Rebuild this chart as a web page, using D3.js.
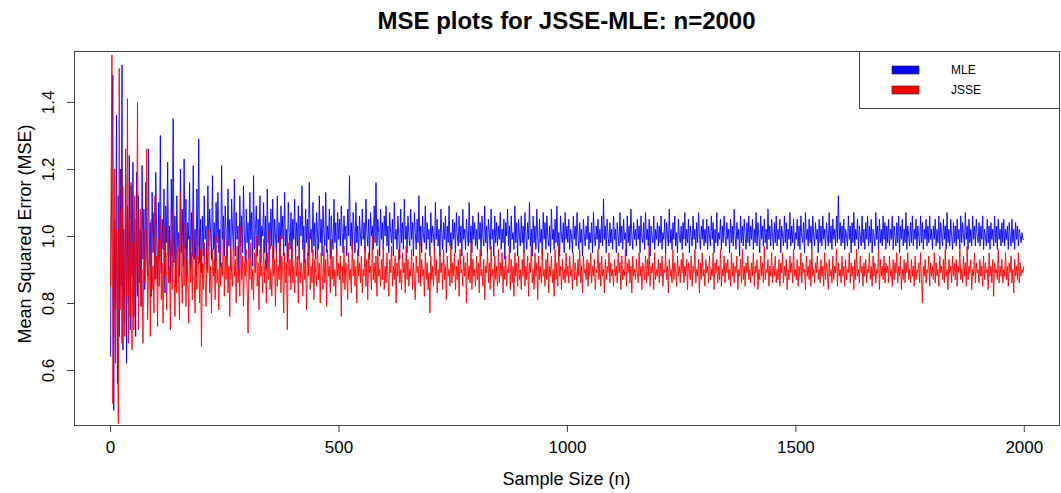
<!DOCTYPE html>
<html>
<head>
    <meta charset="utf-8">
    <script src="https://d3js.org/d3.v7.min.js"></script>
    <style>
        body { margin: 0; background: #fff; }
        text { font-family: "Liberation Sans", Arial, sans-serif; }
    </style>
</head>
<body>
    <script>
        // sample sizes: n = 1, 2, 4, ..., 2000 (values read every 2nd n)
        var sampleSize = d3.range(0, 2001, 2).map(d => Math.max(1, d));

        var mle = [
            // n = 1 .. 60
            0.64, 0.95, 1.22, 1.48, 0.48, 1.05, 0.78, 1.36, 0.56, 1.12, 0.70, 1.20, 0.85, 1.51, 0.66, 1.02,
            0.74, 1.18, 0.62, 1.09, 0.80, 1.24, 0.72, 1.15, 0.88, 1.22, 0.76, 1.05, 0.70, 1.19, 0.82,
            // n = 62 .. 200
            1.12, 0.86, 1.02, 0.79, 1.21, 0.93, 1.08, 0.84, 1.16, 0.97, 0.88, 1.26, 0.91, 1.04, 0.82, 1.13, 0.95, 1.07, 0.87, 1.19, 0.99, 0.85, 1.10, 0.93, 1.30,
            0.89, 1.05, 0.96, 1.14, 0.83, 1.09, 0.98, 1.22, 0.90, 1.03, 0.86, 1.17, 0.94, 1.35, 0.92, 1.06, 0.85, 1.12, 0.97, 1.01, 0.88, 1.20, 0.95, 1.08, 0.91,
            1.23, 0.96, 1.11, 0.87, 1.04, 0.99, 1.16, 0.90, 1.07, 0.94, 1.21, 0.93, 1.02, 0.88, 1.14, 0.97, 1.29, 0.92, 1.05, 0.89,
            // n = 202 .. 500
            1.06, 0.94, 1.12, 0.99, 1.03, 0.90, 1.15, 0.97, 1.08, 1.01, 0.93, 1.18, 0.96, 1.04, 0.89, 1.10, 0.98, 1.13, 0.95, 1.02, 0.91, 1.21, 0.99, 1.06, 0.94,
            1.09, 1.00, 0.93, 1.14, 0.97, 1.05, 0.90, 1.11, 1.02, 0.96, 1.17, 0.94, 1.07, 0.99, 1.03, 0.88, 1.12, 0.97, 1.06, 0.95, 1.15, 1.00, 0.92, 1.08, 0.98,
            1.04, 0.93, 1.13, 0.99, 1.07, 0.91, 1.18, 0.96, 1.02, 1.09, 0.94, 1.05, 0.97, 1.12, 0.92, 1.03, 1.00, 1.10, 0.95, 1.06, 0.90, 1.14, 0.98, 1.04, 0.96,
            1.08, 0.97, 1.11, 0.93, 1.05, 1.00, 0.95, 1.12, 0.98, 1.04, 0.91, 1.09, 0.99, 1.06, 0.94, 1.13, 0.97, 1.02, 0.92, 1.10, 1.01, 0.96, 1.07, 0.93, 1.05,
            0.99, 1.11, 0.95, 1.04, 0.97, 1.09, 0.93, 1.06, 1.00, 1.15, 0.96, 1.03, 0.92, 1.08, 0.98, 1.05, 0.94, 1.16, 0.99, 1.02, 0.95, 1.10, 0.97, 1.04, 0.93,
            1.07, 1.00, 0.96, 1.12, 0.98, 1.05, 0.94, 1.09, 1.01, 0.97, 1.13, 0.95, 1.03, 0.99, 1.08, 0.93, 1.06, 1.00, 0.96, 1.11, 0.98, 1.04, 0.94, 1.07, 0.99,
            // n = 502 .. 1000
            1.05, 0.97, 1.09, 1.01, 0.95, 1.06, 0.99, 1.03, 0.94, 1.08, 1.00, 1.18, 0.97, 1.04, 0.96, 1.07, 1.02, 0.95, 1.10, 0.98, 1.03, 0.94, 1.06, 1.00, 0.97,
            1.08, 0.99, 1.04, 0.95, 1.11, 1.01, 0.97, 1.05, 0.93, 1.07, 1.00, 1.03, 0.96, 1.09, 0.98, 1.16, 0.97, 1.05, 1.01, 0.94, 1.08, 0.99, 1.04, 0.96, 1.06,
            1.00, 1.09, 0.97, 1.03, 0.95, 1.07, 1.01, 0.98, 1.05, 0.94, 1.10, 0.99, 1.02, 0.96, 1.06, 1.00, 0.93, 1.08, 0.98, 1.04, 0.96, 1.11, 0.99, 1.03, 0.95,
            1.06, 1.00, 0.97, 1.08, 0.99, 1.04, 0.94, 1.07, 1.01, 0.96, 1.05, 0.98, 1.12, 0.97, 1.03, 0.95, 1.06, 1.00, 0.98, 1.09, 0.96, 1.04, 0.99, 1.02, 0.94,
            1.07, 0.98, 1.03, 1.00, 0.95, 1.10, 0.99, 1.05, 0.97, 1.02, 0.94, 1.08, 1.01, 0.96, 1.04, 0.99, 1.06, 0.95, 1.03, 0.98, 1.09, 0.97, 1.01, 0.96, 1.05,
            0.99, 1.04, 0.95, 1.07, 1.00, 0.97, 1.06, 0.98, 1.03, 0.94, 1.08, 0.99, 1.02, 0.96, 1.05, 1.00, 0.97, 1.10, 0.98, 1.03, 0.95, 1.06, 0.99, 1.04, 0.97,
            1.02, 0.96, 1.07, 0.99, 1.04, 0.94, 1.06, 1.00, 0.97, 1.09, 0.98, 1.03, 0.95, 1.05, 1.01, 0.96, 1.08, 0.99, 1.02, 0.94, 1.06, 0.98, 1.04, 0.97, 1.03,
            0.99, 1.07, 0.96, 1.02, 0.98, 1.05, 0.93, 1.04, 1.00, 1.08, 0.97, 1.03, 0.95, 1.06, 0.99, 1.01, 0.96, 1.09, 0.98, 1.04, 0.94, 1.05, 1.00, 0.97, 1.06,
            0.98, 1.03, 0.95, 1.07, 1.00, 0.96, 1.04, 0.99, 1.10, 0.97, 1.02, 0.94, 1.06, 0.98, 1.03, 0.96, 1.08, 1.00, 0.95, 1.05, 0.98, 1.02, 0.93, 1.07, 0.99,
            1.04, 0.96, 1.06, 1.00, 0.97, 1.03, 0.95, 1.08, 0.99, 1.02, 0.96, 1.05, 0.98, 1.09, 0.97, 1.01, 0.94, 1.06, 1.00, 0.98, 1.04, 0.95, 1.07, 0.99, 1.03,
            // n = 1002 .. 2000
            0.98, 1.05, 0.96, 1.02, 1.00, 0.95, 1.06, 0.99, 1.03, 0.97, 1.07, 1.00, 0.96, 1.04, 0.98, 1.02, 0.94, 1.05, 1.00, 0.97, 1.03, 0.99, 1.06, 0.96, 1.01,
            0.98, 1.04, 0.95, 1.07, 1.00, 0.97, 1.03, 0.99, 1.05, 0.96, 1.02, 0.98, 1.06, 0.97, 1.11, 0.99, 1.03, 0.95, 1.05, 1.00, 0.97, 1.04, 0.98, 1.02, 0.96,
            1.06, 0.99, 1.02, 0.95, 1.04, 1.00, 0.97, 1.07, 0.98, 1.03, 0.96, 1.05, 0.99, 1.01, 0.94, 1.06, 0.98, 1.03, 0.97, 1.08, 1.00, 0.96, 1.04, 0.99, 1.02,
            0.97, 1.05, 0.99, 1.03, 0.95, 1.06, 1.00, 0.98, 1.04, 0.96, 1.07, 0.99, 1.02, 0.97, 1.05, 0.94, 1.03, 1.00, 0.98, 1.06, 0.96, 1.02, 0.99, 1.04, 0.97,
            1.03, 0.98, 1.06, 0.96, 1.01, 0.99, 1.05, 0.95, 1.04, 1.00, 0.97, 1.08, 0.98, 1.02, 0.96, 1.04, 0.99, 1.06, 0.97, 1.01, 0.95, 1.05, 1.00, 0.98, 1.03,
            0.96, 1.04, 0.99, 1.07, 0.97, 1.02, 0.98, 1.05, 0.95, 1.03, 1.00, 0.97, 1.06, 0.99, 1.02, 0.96, 1.04, 0.98, 1.07, 1.00, 0.96, 1.03, 0.99, 1.05, 0.97,
            1.02, 0.98, 1.05, 0.96, 1.03, 1.00, 0.97, 1.06, 0.99, 1.04, 0.95, 1.02, 0.98, 1.07, 0.97, 1.01, 0.99, 1.05, 0.96, 1.03, 0.98, 1.06, 1.00, 0.97, 1.04,
            0.99, 1.02, 0.95, 1.05, 0.98, 1.03, 0.97, 1.08, 1.00, 0.96, 1.04, 0.99, 1.02, 0.94, 1.06, 0.98, 1.03, 0.97, 1.05, 1.00, 0.96, 1.04, 0.98, 1.06, 0.97,
            1.03, 0.99, 1.05, 0.96, 1.02, 0.98, 1.07, 0.97, 1.04, 1.00, 0.95, 1.06, 0.99, 1.03, 0.97, 1.05, 0.98, 1.02, 0.96, 1.08, 0.99, 1.03, 0.97, 1.05, 1.00,
            0.96, 1.04, 0.98, 1.06, 0.97, 1.02, 0.99, 1.05, 0.95, 1.03, 1.00, 0.97, 1.06, 0.98, 1.04, 0.96, 1.02, 0.99, 1.07, 0.97, 1.03, 0.98, 1.05, 0.96, 1.01,
            0.99, 1.05, 0.97, 1.03, 0.96, 1.06, 1.00, 0.98, 1.04, 0.95, 1.07, 0.99, 1.02, 0.97, 1.05, 0.98, 1.03, 0.96, 1.06, 1.00, 0.97, 1.04, 0.99, 1.02, 0.95,
            1.05, 0.98, 1.03, 0.97, 1.06, 0.99, 1.02, 0.96, 1.04, 1.00, 0.97, 1.07, 0.98, 1.03, 0.96, 1.05, 0.99, 1.02, 0.97, 1.06, 0.98, 1.12, 0.99, 1.04, 0.97,
            1.03, 0.98, 1.05, 0.96, 1.02, 1.00, 0.97, 1.06, 0.99, 1.03, 0.95, 1.04, 0.98, 1.07, 0.97, 1.02, 0.99, 1.05, 0.96, 1.03, 1.00, 0.97, 1.06, 0.98, 1.02,
            0.96, 1.04, 0.99, 1.06, 0.97, 1.03, 0.98, 1.05, 0.95, 1.02, 1.00, 0.97, 1.07, 0.99, 1.03, 0.96, 1.05, 0.98, 1.02, 0.97, 1.06, 0.99, 1.04, 0.96, 1.03,
            0.98, 1.05, 0.97, 1.02, 0.99, 1.06, 0.96, 1.03, 1.00, 0.97, 1.04, 0.98, 1.06, 0.95, 1.03, 0.99, 1.05, 0.97, 1.02, 0.98, 1.07, 0.96, 1.03, 1.00, 0.97,
            1.04, 0.98, 1.06, 0.97, 1.02, 0.99, 1.05, 0.96, 1.03, 1.00, 0.97, 1.06, 0.98, 1.04, 0.96, 1.02, 0.99, 1.05, 0.97, 1.03, 0.98, 1.06, 0.99, 1.02, 0.96,
            1.03, 0.99, 1.05, 0.97, 1.02, 0.98, 1.06, 0.96, 1.04, 1.00, 0.97, 1.05, 0.99, 1.03, 0.96, 1.07, 0.98, 1.02, 0.97, 1.05, 1.00, 0.96, 1.04, 0.98, 1.03,
            0.97, 1.05, 0.99, 1.02, 0.96, 1.06, 0.98, 1.04, 1.00, 0.97, 1.07, 0.99, 1.03, 0.96, 1.05, 0.98, 1.02, 0.97, 1.06, 0.99, 1.03, 0.97, 1.05, 1.00, 0.98,
            1.04, 0.97, 1.03, 0.99, 1.06, 0.96, 1.02, 1.00, 0.97, 1.05, 0.98, 1.03, 0.96, 1.04, 0.99, 1.02, 0.97, 1.06, 0.98, 1.03, 0.96, 1.05, 0.99, 1.02, 0.97,
            1.04, 0.98, 1.05, 0.97, 1.02, 0.99, 1.03, 0.96, 1.04, 1.00, 0.97, 1.05, 0.98, 1.02, 0.96, 1.04, 0.99, 1.03, 0.97, 1.02, 1.00, 0.98, 1.01, 0.99, 0.99
        ];

        var jsse = [
            // n = 1 .. 60
            0.85, 1.10, 1.54, 0.50, 0.72, 1.20, 0.62, 1.02, 0.80, 0.44, 1.50, 0.78, 1.08, 0.68, 1.15, 0.88,
            0.70, 1.26, 0.82, 1.41, 0.68, 1.05, 0.76, 1.16, 0.66, 0.98, 0.72, 1.12, 0.84, 0.95, 1.40,
            // n = 62 .. 200
            0.72, 0.95, 1.08, 0.79, 0.90, 0.68, 1.02, 0.86, 0.93, 1.26, 0.75, 0.88, 0.97, 0.70, 1.05, 0.84, 0.91, 0.77, 1.12, 0.87, 0.94, 0.73, 0.99, 0.85, 1.06,
            0.81, 0.92, 0.74, 1.03, 0.88, 0.95, 0.78, 1.10, 0.86, 0.91, 0.72, 0.99, 0.84, 1.07, 0.89, 0.76, 0.96, 0.83, 1.01, 0.87, 0.75, 1.13, 0.90, 0.80, 0.97,
            0.85, 1.04, 0.79, 0.93, 0.88, 0.74, 1.00, 0.86, 0.95, 0.81, 1.08, 0.89, 0.77, 0.94, 0.84, 1.02, 0.90, 0.80, 0.96, 0.67,
            // n = 202 .. 500
            0.92, 0.84, 0.98, 0.87, 0.79, 0.95, 0.89, 1.02, 0.83, 0.91, 0.77, 0.96, 0.88, 0.93, 0.81, 1.00, 0.86, 0.90, 0.78, 0.97, 0.85, 0.92, 0.88, 1.04, 0.82,
            0.94, 0.87, 0.99, 0.83, 0.91, 0.76, 0.96, 0.89, 0.85, 1.01, 0.88, 0.93, 0.80, 0.97, 0.86, 0.90, 0.82, 1.03, 0.87, 0.94, 0.79, 0.92, 0.88, 0.96, 0.84,
            0.71, 0.93, 0.87, 0.98, 0.84, 0.90, 0.81, 0.95, 0.89, 1.00, 0.85, 0.92, 0.78, 0.96, 0.88, 0.91, 0.83, 0.99, 0.86, 0.93, 0.80, 0.95, 0.87, 1.02, 0.84,
            0.90, 0.82, 0.97, 0.88, 0.93, 0.79, 0.96, 0.85, 0.91, 0.87, 1.00, 0.83, 0.94, 0.89, 0.77, 0.95, 0.86, 0.92, 0.72, 0.98, 0.88, 0.93, 0.84, 0.97, 0.86,
            0.91, 0.83, 0.96, 0.88, 0.94, 0.80, 0.99, 0.86, 0.92, 0.89, 0.82, 0.97, 0.87, 0.93, 0.78, 0.95, 0.88, 1.01, 0.84, 0.91, 0.86, 0.96, 0.81, 0.93, 0.89,
            0.85, 0.98, 0.87, 0.92, 0.80, 0.95, 0.89, 0.84, 0.97, 0.86, 0.93, 0.79, 0.96, 0.88, 0.91, 0.83, 0.99, 0.87, 0.94, 0.85, 0.90, 0.82, 0.96, 0.88, 0.92,
            // n = 502 .. 1000
            0.87, 0.94, 0.76, 0.91, 0.86, 0.97, 0.84, 0.92, 0.89, 0.81, 0.95, 0.87, 0.90, 0.83, 0.98, 0.88, 0.93, 0.85, 0.91, 0.80, 0.96, 0.88, 0.92, 0.86, 0.94,
            0.83, 0.90, 0.88, 0.97, 0.85, 0.93, 0.81, 0.95, 0.89, 0.91, 0.84, 1.00, 0.87, 0.92, 0.86, 0.94, 0.82, 0.96, 0.88, 0.90, 0.85, 0.93, 0.87, 0.98, 0.84,
            0.91, 0.86, 0.95, 0.88, 0.82, 0.93, 0.89, 0.97, 0.85, 0.91, 0.87, 0.94, 0.80, 0.92, 0.88, 0.96, 0.86, 0.90, 0.84, 0.95, 0.89, 0.92, 0.83, 0.97, 0.87,
            0.93, 0.85, 0.90, 0.88, 0.96, 0.84, 0.92, 0.87, 0.81, 0.94, 0.89, 0.91, 0.86, 0.98, 0.85, 0.93, 0.88, 0.90, 0.82, 0.95, 0.87, 0.92, 0.84, 0.89, 0.77,
            0.94, 0.87, 0.91, 0.85, 0.97, 0.88, 0.93, 0.83, 0.90, 0.86, 0.95, 0.89, 0.92, 0.84, 0.96, 0.87, 0.91, 0.81, 0.94, 0.88, 0.90, 0.85, 0.97, 0.86, 0.92,
            0.88, 0.95, 0.84, 0.91, 0.87, 0.93, 0.82, 0.96, 0.89, 0.90, 0.85, 0.94, 0.88, 0.92, 0.80, 0.95, 0.87, 0.91, 0.86, 0.98, 0.84, 0.93, 0.88, 0.90, 0.85,
            0.94, 0.87, 0.92, 0.83, 0.96, 0.88, 0.90, 0.85, 0.93, 0.81, 0.91, 0.89, 0.95, 0.86, 0.92, 0.84, 0.97, 0.88, 0.90, 0.82, 0.94, 0.87, 0.91, 0.85, 0.96,
            0.86, 0.92, 0.88, 0.95, 0.83, 0.91, 0.87, 0.94, 0.85, 0.90, 0.89, 0.97, 0.84, 0.93, 0.86, 0.91, 0.82, 0.95, 0.88, 0.92, 0.85, 0.94, 0.87, 0.90, 0.84,
            0.93, 0.88, 0.96, 0.85, 0.91, 0.87, 0.94, 0.82, 0.92, 0.89, 0.97, 0.86, 0.90, 0.84, 0.95, 0.88, 0.92, 0.81, 0.94, 0.87, 0.91, 0.86, 0.96, 0.88, 0.90,
            0.85, 0.93, 0.87, 0.95, 0.83, 0.91, 0.88, 0.94, 0.86, 0.90, 0.82, 0.96, 0.87, 0.92, 0.85, 0.97, 0.88, 0.91, 0.84, 0.93, 0.87, 0.90, 0.86, 0.95, 0.88,
            // n = 1002 .. 2000
            0.91, 0.86, 0.94, 0.88, 0.90, 0.84, 0.95, 0.87, 0.92, 0.89, 0.85, 0.93, 0.88, 0.96, 0.86, 0.91, 0.83, 0.94, 0.89, 0.90, 0.87, 0.93, 0.85, 0.92, 0.88,
            0.95, 0.86, 0.91, 0.88, 0.93, 0.84, 0.90, 0.89, 0.96, 0.87, 0.92, 0.85, 0.94, 0.88, 0.90, 0.83, 0.93, 0.87, 0.91, 0.89, 0.95, 0.86, 0.92, 0.88, 0.90,
            0.85, 0.93, 0.88, 0.91, 0.86, 0.95, 0.89, 0.92, 0.84, 0.94, 0.87, 0.90, 0.88, 0.96, 0.85, 0.92, 0.89, 0.93, 0.86, 0.91, 0.83, 0.94, 0.88, 0.90, 0.87,
            0.93, 0.89, 0.86, 0.95, 0.88, 0.91, 0.84, 0.92, 0.90, 0.87, 0.94, 0.86, 0.93, 0.88, 0.97, 0.85, 0.91, 0.89, 0.92, 0.84, 0.95, 0.87, 0.90, 0.88, 0.93,
            0.86, 0.92, 0.88, 0.94, 0.85, 0.90, 0.89, 0.95, 0.87, 0.91, 0.83, 0.93, 0.88, 0.90, 0.86, 0.96, 0.87, 0.92, 0.89, 0.85, 0.94, 0.88, 0.91, 0.86, 0.93,
            0.89, 0.95, 0.86, 0.91, 0.88, 0.93, 0.84, 0.92, 0.90, 0.87, 0.94, 0.85, 0.91, 0.89, 0.96, 0.86, 0.90, 0.88, 0.93, 0.83, 0.92, 0.87, 0.95, 0.88, 0.90,
            0.85, 0.93, 0.89, 0.91, 0.86, 0.94, 0.87, 0.90, 0.88, 0.95, 0.84, 0.92, 0.89, 0.93, 0.86, 0.91, 0.87, 0.96, 0.85, 0.90, 0.88, 0.94, 0.86, 0.92, 0.89,
            0.93, 0.87, 0.90, 0.85, 0.95, 0.88, 0.92, 0.86, 0.91, 0.89, 0.94, 0.84, 0.90, 0.88, 0.93, 0.86, 0.96, 0.87, 0.91, 0.85, 0.92, 0.89, 0.94, 0.87, 0.90,
            0.86, 0.92, 0.88, 0.95, 0.85, 0.91, 0.89, 0.93, 0.84, 0.90, 0.87, 0.94, 0.88, 0.92, 0.86, 0.97, 0.87, 0.90, 0.89, 0.93, 0.85, 0.91, 0.88, 0.95, 0.86,
            0.91, 0.88, 0.94, 0.86, 0.90, 0.87, 0.93, 0.85, 0.92, 0.89, 0.95, 0.86, 0.91, 0.88, 0.93, 0.84, 0.90, 0.87, 0.94, 0.89, 0.92, 0.86, 0.96, 0.88, 0.90,
            0.87, 0.93, 0.85, 0.91, 0.88, 0.95, 0.86, 0.92, 0.89, 0.90, 0.84, 0.94, 0.88, 0.91, 0.87, 0.93, 0.85, 0.96, 0.88, 0.90, 0.86, 0.92, 0.89, 0.94, 0.87,
            0.90, 0.86, 0.93, 0.88, 0.91, 0.85, 0.95, 0.87, 0.92, 0.89, 0.84, 0.93, 0.88, 0.90, 0.86, 0.94, 0.87, 0.91, 0.89, 0.96, 0.85, 0.92, 0.88, 0.90, 0.86,
            0.94, 0.88, 0.91, 0.85, 0.93, 0.87, 0.90, 0.89, 0.95, 0.86, 0.92, 0.88, 0.91, 0.84, 0.93, 0.87, 0.96, 0.88, 0.90, 0.86, 0.94, 0.89, 0.91, 0.85, 0.92,
            0.88, 0.93, 0.86, 0.90, 0.89, 0.95, 0.87, 0.91, 0.85, 0.94, 0.88, 0.92, 0.86, 0.90, 0.89, 0.96, 0.84, 0.93, 0.88, 0.91, 0.87, 0.94, 0.86, 0.92, 0.89,
            0.91, 0.86, 0.94, 0.88, 0.90, 0.85, 0.93, 0.87, 0.92, 0.89, 0.95, 0.86, 0.91, 0.88, 0.94, 0.84, 0.90, 0.87, 0.93, 0.86, 0.92, 0.89, 0.95, 0.87, 0.90,
            0.86, 0.93, 0.88, 0.91, 0.85, 0.94, 0.87, 0.90, 0.89, 0.92, 0.86, 0.95, 0.87, 0.80, 0.91, 0.88, 0.93, 0.86, 0.90, 0.89, 0.94, 0.85, 0.92, 0.88, 0.91,
            0.87, 0.95, 0.86, 0.92, 0.88, 0.90, 0.85, 0.94, 0.89, 0.91, 0.87, 0.93, 0.86, 0.96, 0.88, 0.90, 0.84, 0.93, 0.89, 0.91, 0.86, 0.94, 0.88, 0.92, 0.87,
            0.93, 0.85, 0.91, 0.89, 0.96, 0.87, 0.90, 0.86, 0.94, 0.88, 0.92, 0.85, 0.97, 0.87, 0.91, 0.89, 0.93, 0.84, 0.90, 0.88, 0.95, 0.86, 0.92, 0.89, 0.90,
            0.86, 0.93, 0.88, 0.91, 0.85, 0.94, 0.87, 0.92, 0.89, 0.90, 0.84, 0.95, 0.88, 0.91, 0.86, 0.93, 0.82, 0.92, 0.89, 0.90, 0.87, 0.96, 0.86, 0.91, 0.88,
            0.93, 0.86, 0.90, 0.88, 0.95, 0.87, 0.91, 0.85, 0.92, 0.89, 0.94, 0.86, 0.90, 0.83, 0.93, 0.88, 0.91, 0.87, 0.95, 0.86, 0.92, 0.88, 0.90, 0.89, 0.91
        ];

        var xTicks = [0, 500, 1000, 1500, 2000];
        var yTicks = [0.6, 0.8, 1.0, 1.2, 1.4];
        var seriesNames = ["MLE", "JSSE"];
        var seriesColors = ["#0000ff", "#ff0000"];

        var width = 1061, height = 493;
        var box = {left: 74, right: 1059, top: 51, bottom: 425};

        var svg = d3.select("body").append("svg")
            .attr("width", width)
            .attr("height", height);

        var x = d3.scaleLinear().domain([-79, 2077]).range([box.left, box.right]);
        var y = d3.scaleLinear().domain([0.436, 1.552]).range([box.bottom, box.top]);

        // lines (MLE first, JSSE drawn over it)
        var line = d3.line()
            .defined((d, i) => i < sampleSize.length)
            .x((d, i) => x(sampleSize[i]))
            .y(d => y(d));

        svg.append("g")
            .selectAll("path")
            .data([mle, jsse])
            .enter().append("path")
            .attr("d", d => line(d))
            .style("fill", "none")
            .style("stroke", (d, i) => seriesColors[i])
            .style("stroke-width", 0.9);

        // axes
        var xAxis = svg.append("g")
            .attr("transform", "translate(0," + box.bottom + ")")
            .call(d3.axisBottom(x).tickValues(xTicks).tickFormat(d3.format("d"))
                .tickSize(7).tickPadding(9).tickSizeOuter(0));
        xAxis.select(".domain").remove();
        xAxis.selectAll("line").style("stroke", "#444");
        xAxis.selectAll("text").style("font-size", "17px").style("fill", "#000");

        var yAxis = svg.append("g")
            .attr("transform", "translate(" + box.left + ",0)")
            .call(d3.axisLeft(y).tickValues(yTicks).tickSize(7).tickFormat(d3.format(".1f")));
        yAxis.select(".domain").remove();
        yAxis.selectAll("line").style("stroke", "#444");
        yAxis.selectAll("text")
            .attr("x", null)
            .attr("dy", null)
            .attr("transform", "translate(-20,0) rotate(-90)")
            .style("text-anchor", "middle")
            .style("font-size", "17px")
            .style("fill", "#000");

        // plot box
        svg.append("rect")
            .attr("x", box.left + 0.5)
            .attr("y", box.top + 0.5)
            .attr("width", box.right - box.left)
            .attr("height", box.bottom - box.top)
            .style("fill", "none")
            .style("stroke", "#444");

        // titles
        svg.append("text")
            .attr("x", (box.left + box.right) / 2)
            .attr("y", 29)
            .attr("text-anchor", "middle")
            .style("font-size", "24px")
            .style("font-weight", "bold")
            .text("MSE plots for JSSE-MLE: n=2000");

        svg.append("text")
            .attr("x", (box.left + box.right) / 2)
            .attr("y", 485)
            .attr("text-anchor", "middle")
            .style("font-size", "18px")
            .text("Sample Size (n)");

        svg.append("text")
            .attr("transform", "translate(31," + ((box.top + box.bottom) / 2 - 4) + ") rotate(-90)")
            .attr("text-anchor", "middle")
            .style("font-size", "18px")
            .text("Mean Squared Error (MSE)");

        // legend
        var legend = svg.append("g");
        legend.append("rect")
            .attr("x", 859.5)
            .attr("y", box.top + 0.5)
            .attr("width", 200)
            .attr("height", 57)
            .style("fill", "#fff")
            .style("stroke", "#444");

        var item = legend.selectAll(".item")
            .data(seriesNames)
            .enter().append("g")
            .attr("transform", (d, i) => "translate(892," + (66 + i * 20) + ")");

        item.append("rect")
            .attr("width", 27)
            .attr("height", 8)
            .style("fill", (d, i) => seriesColors[i])
            .style("stroke", "#333")
            .style("stroke-width", 0.7);

        item.append("text")
            .attr("x", 59)
            .attr("y", 4)
            .attr("dy", "0.35em")
            .style("font-size", "12px")
            .text(d => d);
    </script>
</body>
</html>
